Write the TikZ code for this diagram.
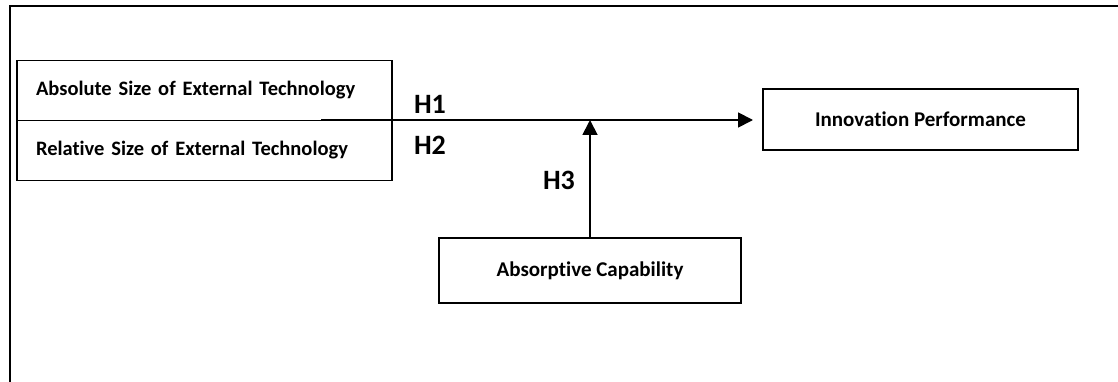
\documentclass[tikz,border=0pt]{standalone}
\usepackage{fontspec}
\setmainfont[Ligatures=NoCommon]{Carlito}
\usetikzlibrary{arrows.meta,positioning}

\begin{document}
\begin{tikzpicture}[x=1pt,y=-1pt,
    box/.style={draw, line width=1.4pt, outer sep=0pt, inner sep=0pt,
      font=\bfseries\fontsize{21}{24}\selectfont},
    leftbox/.style={box, minimum width=375, minimum height=60,
      text width=337, align=left, font=\bfseries\fontsize{20.5}{24}\selectfont},
    hyp/.style={font=\bfseries\fontsize{28}{32}\selectfont},
    link/.style={line width=1.8pt, -{Triangle[length=15pt,width=15pt]}}]

    % --- 1. Canvas and frame ---
    \useasboundingbox (0,0) rectangle (1118,382);
    \draw[line width=2pt] (10,382) -- (10,6) -- (1118,6);

    % --- 2. Boxes ---
    % The two size measures stacked on the left
    \node[leftbox] (abs) at (204.5,90.5) {Absolute Size of External Technology};
    \node[leftbox, below=0pt of abs] (rel) {Relative Size of External Technology};
    % Outcome and moderator
    \node[box, minimum width=315, minimum height=61] (inno) at (920.5,119.5) {Innovation Performance};
    \node[box, minimum width=302, minimum height=65] (absorp) at (590,270.5) {Absorptive Capability};

    % --- 3. Arrows ---
    \coordinate (start) at (321,120);  % line starts inside the left boxes
    \draw[link, shorten >=10pt] (start) -- (start -| inno.west);
    \draw[link] (absorp.north) -- (absorp.north |- start);

    % --- 4. Hypothesis labels ---
    \node[hyp] (h1) at (430,104) {H1};
    \node[hyp] (h2) at (430,145) {H2};
    \node[hyp] (h3) at (559,180) {H3};

\end{tikzpicture}
\end{document}
